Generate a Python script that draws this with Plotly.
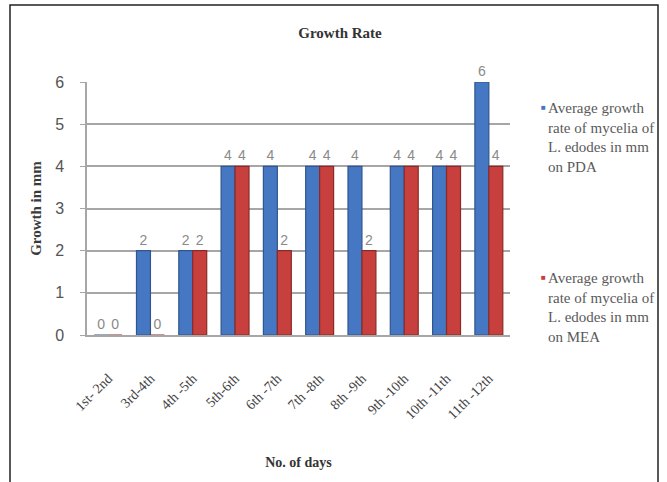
import plotly.graph_objects as go

# Growth period (day ranges) and average mycelial growth rate (mm)
days = ["1st- 2nd", "3rd-4th", "4th -5th", "5th-6th", "6th -7th",
        "7th -8th", "8th -9th", "9th -10th", "10th -11th", "11th -12th"]
pda = [0, 2, 2, 4, 4, 4, 4, 4, 4, 6]
mea = [0, 0, 2, 4, 2, 4, 2, 4, 4, 4]
series_names = [
    "Average growth<br>rate of mycelia of<br>L. edodes in mm<br>on PDA",
    "Average growth<br>rate of mycelia of<br>L. edodes in mm<br>on MEA",
]
series_colors = ["#4677C2", "#C8403D"]
edge_colors = ["#2F5690", "#8A2A28"]

SERIF = "Liberation Serif, Times New Roman, serif"
SANS = "Liberation Sans, Arial, sans-serif"

W, H = 667, 482
L, R, T, B = 87, 157, 82, 147
PW, PH = W - L - R, H - T - B


def px_x(px):
    return (px - L) / PW


def px_y(py):
    return (H - B - py) / PH


fig = go.Figure()
for vals, name, col, edge in zip([pda, mea], series_names, series_colors, edge_colors):
    fig.add_trace(go.Bar(
        x=days, y=vals, name=name, showlegend=False,
        marker=dict(color=col, line=dict(color=edge, width=1.2)),
        text=[str(v) for v in vals], textposition="outside", cliponaxis=False,
        textfont=dict(family=SANS, size=14, color="#8A8A8A"),
    ))

fig.update_layout(
    width=W, height=H,
    margin=dict(l=L, r=R, t=T, b=B),
    paper_bgcolor="white", plot_bgcolor="white",
    barmode="group", bargap=0.34, bargroupgap=0.0,
    title=dict(text="<b>Growth Rate</b>", x=340 / W, xanchor="center",
               y=1 - 33 / H, yanchor="middle",
               font=dict(family=SERIF, size=15, color="#333333")),
    font=dict(family=SERIF),
)

fig.update_xaxes(
    showgrid=False, tickangle=-45, ticks="", ticklabelstandoff=28,
    tickfont=dict(family=SERIF, size=14, color="#444444"),
    showline=True, linecolor="#A6A6A6", linewidth=1.5,
    title=dict(text="<b>No. of days</b>", standoff=36,
               font=dict(family=SERIF, size=14, color="#333333")),
)
fig.update_yaxes(
    range=[0, 6], dtick=1, showgrid=True, gridcolor="#A6A6A6", gridwidth=1.5,
    zeroline=False, showline=True, linecolor="#A6A6A6", linewidth=1.5,
    ticks="outside", ticklen=5, tickcolor="#A6A6A6", ticklabelstandoff=13,
    tickfont=dict(family=SANS, size=16, color="#555555"),
    title=dict(text="<b>Growth in mm</b>", standoff=10,
               font=dict(family=SERIF, size=15, color="#3A3A3A")),
)

# legend: small colour square beside a wrapped series name
for i, (name, col) in enumerate(zip(series_names, series_colors)):
    top = 98 + i * 170
    fig.add_annotation(xref="paper", yref="paper", x=px_x(539), y=px_y(top + 9),
                       text="■", showarrow=False, xanchor="left", yanchor="middle",
                       font=dict(family=SANS, size=8, color=col))
    fig.add_annotation(xref="paper", yref="paper", x=px_x(546), y=px_y(top),
                       text=name, showarrow=False, xanchor="left", yanchor="top",
                       align="left",
                       font=dict(family=SERIF, size=15, color="#5A5A5A"))

# outer chart frame
fig.add_shape(type="rect", xref="paper", yref="paper",
              x0=px_x(10), x1=px_x(658), y0=px_y(H + 40), y1=px_y(5),
              line=dict(color="#222222", width=1.5), fillcolor="rgba(0,0,0,0)",
              layer="below")

fig.write_html("out.html")
